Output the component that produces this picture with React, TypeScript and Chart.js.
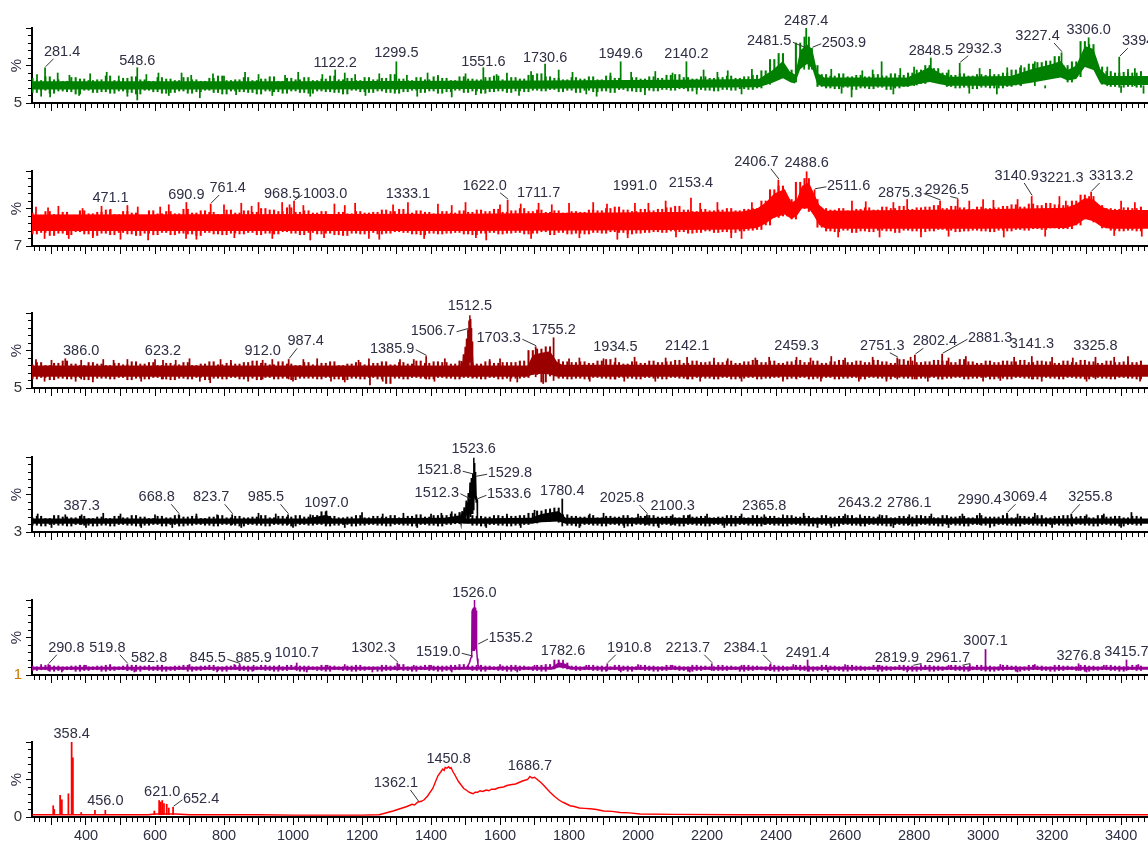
import React, { useEffect, useRef } from 'react';
import { Chart, registerables } from 'chart.js';

Chart.register(...registerables);

const FONT = '"Liberation Sans", Arial, sans-serif';
const TEXT_COLOR = '#2e2e44';
const X_MIN = 243.5;
const X_MAX = 3478;
const NOISE_START = 245;
const NOISE_STEP = 12.5;
const X_LABEL_STEP = 200;

// offset labels printed at the foot of each % axis
const yOffsetLabels = ['5', '7', '5', '3', '1', '0'];
const yOffsetLabelColors = ['#333', '#333', '#333', '#333', '#c87800', '#333'];
const traceColors = ['#008000', '#ff0000', '#9b0000', '#000000', '#960096', '#ff0000'];

// ---------- Trace 1 (green) ----------
// noise: alternating high / low intensity (%), every 12.5 m/z from 245
const p1Noise = [
  33,14,30,17,35,13,31,16,29,15,34,12,32,17,30,14,
  31,15,36,13,30,16,33,14,35,12,31,17,29,15,34,13,
  32,14,30,16,34,13,31,15,29,17,33,14,36,12,30,16,
  31,15,34,14,30,12,32,16,35,15,29,13,33,16,31,14,
  34,13,30,16,32,15,36,14,31,12,33,17,30,15,34,14,
  31,16,33,14,38,13,32,15,30,17,34,14,31,16,35,13,
  33,15,30,17,35,14,32,16,31,13,34,15,36,16,31,14,
  34,16,32,15,37,17,39,16,35,18,33,15,31,17,34,14,
  32,17,35,15,31,16,36,14,33,18,30,16,34,15,32,17,
  35,16,33,18,37,17,38,19,34,16,32,18,35,17,33,16,
  34,18,36,17,33,19,35,18,37,20,43,25,58,32,66,36,
  44,28,80,52,88,45,50,22,38,20,36,19,39,21,35,18,
  37,20,35,19,38,21,36,18,39,20,37,22,40,24,44,26,
  50,30,46,27,40,22,37,20,39,21,36,19,38,21,37,20,
  38,20,40,22,44,24,47,27,52,30,54,33,56,34,62,36,
  50,28,55,35,82,50,78,45,48,25,42,22,40,21,41,22,
  40,21,42,
];
// dense part of the noise band [m/z, upper %, lower %]
const p1Band = [
  [245,29,18],[1000,29,18],[1700,30,19],[2100,31,20],[2350,32,21],[2390,44,27],[2420,56,33],
  [2440,42,28],[2455,38,26],[2470,70,45],[2490,78,52],[2505,72,46],[2520,40,24],[2540,34,22],
  [2780,34,22],[2810,40,25],[2845,48,28],[2875,40,25],[2900,35,23],[3080,36,23],[3140,45,27],
  [3200,52,32],[3225,56,34],[3245,44,30],[3270,50,32],[3295,76,48],[3320,72,44],[3340,45,26],
  [3360,36,24],[3478,36,24],
];
// isolated noise spikes [m/z, tip %]
const p1Spikes = [
  [258,38],[270,9],[296,8],[318,40],[352,37],[380,10],[412,39],[460,41],[495,36],[520,9],
  [575,38],[610,40],[640,10],[677,40],[705,37],[730,7],[768,39],[800,36],[835,11],[861,41],
  [900,38],[940,10],[977,37],[1015,41],[1050,9],[1085,38],[1150,40],[1180,38],[1210,10],
  [1250,39],[1330,37],[1360,9],[1390,40],[1420,37],[1460,8],[1500,39],[1530,11],[1590,38],
  [1620,40],[1655,10],[1690,42],[1770,44],[1810,41],[1850,12],[1880,9],[1920,40],[1980,41],
  [2020,11],[2050,42],[2100,40],[2170,12],[2190,44],[2230,41],[2260,43],[2300,12],[2330,45],
  [2560,45],[2590,13],[2619,8],[2650,43],[2680,44],[2706,55],[2740,12],[2760,46],[2800,48],
  [2900,44],[2960,13],[2990,46],[3020,45],[3040,12],[3070,47],[3110,50],[3150,55],[3180,20],
  [3360,48],[3400,14],[3420,45],[3440,46],[3465,13],
];
// [label (m/z), tip %, foot % of the spike or null]
const p1Peaks = [
  ['281.4',47,18],['548.6',47,4],['1122.2',44,18],['1299.5',55,18],['1551.6',47,18],
  ['1730.6',52,20],['1949.6',55,20],['2140.2',55,20],['2481.5',73,45],['2487.4',100,55],
  ['2503.9',73,45],['2848.5',60,30],['2932.3',53,24],['3227.4',67,36],['3306.0',87,50],
  ['3394.6',61,24],
];
// [label baseline %, horizontal shift px]
const p1LabelPos = [
  [63,17],[51,0],[48,0],[61,0],[49,0],[55,0],[60,0],[60,0],[77,-35],[104,0],[75,32],
  [64,0],[67,20],[84,-24],[92,0],[77,25],
];

// ---------- Trace 2 (red) ----------
const p2Noise = [
  44,16,41,18,46,14,42,17,45,15,40,19,47,16,43,14,
  45,17,48,15,42,18,46,16,44,14,41,17,47,15,43,18,
  46,15,43,17,49,16,44,14,47,18,45,16,42,15,48,17,
  44,16,47,18,45,15,50,17,48,16,46,19,51,17,45,15,
  47,18,44,16,46,17,42,15,45,14,43,17,46,16,44,18,
  45,16,48,17,46,19,49,18,44,16,47,15,45,17,43,16,
  46,17,44,18,47,16,45,15,48,17,46,18,49,16,45,17,
  47,18,50,16,46,17,48,19,45,15,47,18,44,16,46,17,
  45,16,48,18,47,17,50,19,52,18,48,16,46,17,49,18,
  47,19,49,18,51,20,53,19,48,17,46,18,49,20,47,18,
  48,19,50,18,47,20,49,21,50,22,60,28,75,38,80,40,
  62,36,85,50,90,46,62,25,50,20,48,19,50,21,47,18,
  49,20,51,19,48,21,52,20,50,18,53,21,49,20,51,19,
  52,20,54,22,50,21,53,19,51,20,49,21,52,20,50,19,
  51,21,53,20,55,22,52,21,56,23,54,22,57,24,55,23,
  54,23,60,28,68,36,66,32,54,24,50,21,49,20,51,21,
  50,20,52,
];
const p2Band = [
  [245,42,20],[1500,43,20],[2000,45,21],[2300,46,22],[2345,50,24],[2370,58,30],[2395,70,38],
  [2425,76,42],[2445,58,36],[2460,62,40],[2475,80,50],[2495,85,50],[2510,70,40],[2525,55,28],
  [2545,47,23],[3000,49,23],[3240,51,24],[3270,56,28],[3295,64,36],[3320,62,33],[3345,52,25],
  [3370,48,23],[3478,48,23],
];
const p2Spikes = [
  [255,52],[280,10],[290,51],[320,53],[350,10],[390,50],[420,11],[445,53],[500,9],[520,54],
  [550,52],[580,8],[615,52],[640,55],[690,10],[720,9],[800,55],[830,11],[850,57],[880,53],
  [900,58],[940,10],[990,55],[1030,54],[1050,8],[1090,11],[1120,56],[1150,54],[1180,57],
  [1220,10],[1250,9],[1290,55],[1380,10],[1420,56],[1460,54],[1500,58],[1530,11],[1560,8],
  [1600,55],[1660,56],[1690,10],[1750,55],[1800,57],[1830,11],[1870,58],[1910,56],[1940,9],
  [1970,11],[2030,57],[2080,60],[2110,12],[2180,57],[2230,58],[2270,11],[2300,10],[2330,58],
  [2580,12],[2620,60],[2660,59],[2700,12],[2740,58],[2780,62],[2820,12],[2900,13],[2960,60],
  [3000,62],[3030,61],[3060,12],[3100,62],[3180,13],[3240,60],[3380,14],[3400,60],[3440,58],
  [3460,13],
];
const p2Peaks = [
  ['471.1',49,22],['690.9',58,22],['761.4',56,22],['968.5',58,22],['1003.0',60,22],
  ['1333.1',58,22],['1622.0',61,22],['1711.7',57,22],['1991.0',57,22],['2153.4',64,22],
  ['2406.7',88,45],['2488.6',99,60],['2511.6',75,45],['2875.3',60,25],['2926.5',62,25],
  ['3140.9',66,30],['3221.3',66,30],['3313.2',72,40],
];
const p2LabelPos = [
  [59,0],[63,0],[72,17],[64,0],[64,31],[64,0],[75,-23],[66,0],[75,0],[79,0],
  [107,-22],[106,0],[75,34],[66,-40],[70,-11],[88,-15],[85,2],[88,20],
];

// ---------- Trace 3 (dark red) ----------
const p3Noise = [
  31,12,34,14,30,11,33,13,36,12,32,14,30,11,34,13,
  32,13,30,12,33,14,31,11,35,13,32,12,34,14,30,12,
  33,11,31,13,34,12,30,14,32,11,35,13,31,12,33,14,
  32,12,34,13,36,11,33,14,31,12,35,13,32,11,30,13,
  34,13,31,12,33,14,35,12,30,11,32,13,34,12,31,14,
  33,12,35,6,31,13,34,12,32,14,36,13,33,12,35,14,
  34,13,32,12,36,14,33,13,32,12,35,14,33,12,34,13,
  34,13,36,14,50,18,52,8,55,16,38,13,35,12,34,13,
  35,12,33,14,36,13,38,12,34,14,32,13,35,12,33,14,
  36,13,34,12,35,14,37,13,33,12,36,14,34,13,35,12,
  34,14,36,12,33,13,35,14,37,12,34,13,36,14,33,12,
  35,13,37,14,34,12,36,13,33,14,35,12,37,13,34,14,
  36,12,34,14,37,13,35,12,33,14,38,13,36,12,34,13,
  35,14,37,12,36,13,34,14,38,12,35,13,33,14,36,12,
  34,13,36,12,35,14,37,13,34,12,36,14,35,13,33,12,
  36,14,34,13,37,12,35,14,33,13,36,12,34,14,35,13,
  34,12,36,
];
const p3Band = [[245,30,15],[1680,30,15],[1695,44,18],[1720,47,19],[1745,49,18],[1765,35,15],[1780,31,15],[3478,31,15]];
const p3Spikes = [
  [255,38],[280,9],[300,37],[340,39],[370,9],[420,8],[450,38],[480,37],[520,38],[560,9],
  [600,38],[660,37],[700,39],[730,9],[760,7],[790,38],[820,37],[870,9],[940,38],[1000,9],
  [1030,38],[1070,39],[1110,9],[1150,8],[1190,37],[1220,39],[1223,4],[1260,9],[1310,38],
  [1350,38],[1410,9],[1440,39],[1570,38],[1600,39],[1630,9],[1650,8],[1725,6],[1800,39],
  [1830,40],[1860,9],[1900,39],[1960,9],[1990,41],[2050,9],[2080,40],[2180,9],[2220,40],
  [2260,39],[2300,9],[2340,40],[2380,41],[2420,9],[2500,40],[2530,9],[2560,42],[2600,40],
  [2640,9],[2680,41],[2720,9],[2790,41],[2840,9],[2900,40],[2950,42],[3000,9],[3050,10],
  [3090,41],[3170,9],[3200,41],[3260,40],[3300,9],[3380,41],[3420,42],[3455,9],
];
const p3PeakLine = [
  [1478,20],[1482,30],[1485,14],[1488,36],[1491,16],[1494,45],[1497,18],[1499,55],[1501,22],
  [1503,66],[1505,25],[1506.7,78],[1508,30],[1510,90],[1511,35],[1512.5,97],[1514,40],
  [1515,92],[1516,30],[1517,80],[1518,25],[1519,62],[1520,18],[1521,45],[1523,14],[1525,30],[1528,15],
];
const p3Peaks = [
  ['386.0',37,12],['623.2',37,12],['912.0',37,12],['987.4',38,12],['1385.9',42,12],
  ['1506.7',78,null],['1512.5',97,null],['1703.3',55,15],['1755.2',67,10],['1934.5',40,12],
  ['2142.1',41,12],['2459.3',41,12],['2751.3',40,12],['2802.4',44,12],['2881.3',45,12],
  ['3141.3',42,12],['3325.8',41,12],
];
const p3LabelPos = [
  [44,0],[44,0],[44,0],[57,17],[47,-34],[71,-35],[104,0],[61,-37],[72,0],[49,0],
  [51,0],[51,0],[51,-15],[57,20],[61,48],[53,0],[51,0],
];

// ---------- Trace 4 (black) ----------
const p4Noise = [
  19,9,21,8,18,10,22,9,20,8,19,10,21,9,18,8,
  20,9,18,8,21,10,19,9,22,8,20,9,18,10,21,8,
  19,10,22,8,20,9,21,10,18,9,20,8,22,10,19,9,
  21,8,19,10,20,9,22,8,19,10,21,9,20,8,22,10,
  20,9,22,10,27,8,21,9,19,10,20,8,22,9,19,10,
  21,9,20,8,22,10,19,9,21,8,23,10,20,9,22,8,
  22,10,24,11,26,12,22,9,21,8,20,10,22,9,21,8,
  21,9,22,10,25,12,28,14,30,15,32,13,23,9,21,8,
  20,10,22,9,19,8,21,10,20,9,22,8,19,10,21,9,
  22,8,20,10,21,9,19,8,22,10,20,9,21,8,19,10,
  20,9,22,8,21,10,19,9,22,8,20,10,21,9,19,8,
  22,10,20,9,21,8,19,10,22,9,20,8,21,10,22,9,
  19,8,21,10,20,9,22,8,19,10,21,9,20,8,22,10,
  21,9,19,8,22,10,20,9,21,8,19,10,22,9,20,8,
  20,10,22,9,19,8,21,10,20,9,22,8,19,10,21,9,
  22,8,20,10,21,9,19,8,22,10,20,9,21,8,19,10,
  21,9,20,
];
const p4Band = [
  [245,18,11],[1040,18,11],[1097,23,11],[1115,18,11],[1440,19,11],[1480,22,12],[1500,18,11],
  [1690,19,11],[1720,24,13],[1770,28,14],[1790,19,11],[3478,18,11],
];
const p4Spikes = [
  [260,24],[300,6],[340,23],[400,6],[450,25],[500,24],[560,6],[600,23],[650,6],[720,24],
  [780,23],[850,6],[900,25],[950,24],[1000,6],[1050,23],[1150,6],[1200,26],[1260,24],[1320,25],
  [1360,6],[1400,24],[1430,25],[1460,27],[1560,6],[1620,24],[1660,6],[1700,29],[1745,31],
  [1830,6],[1860,24],[1900,25],[1960,6],[2000,24],[2060,6],[2150,23],[2200,24],[2250,6],
  [2300,24],[2420,23],[2480,25],[2520,6],[2560,6],[2600,24],[2700,23],[2740,6],[2850,24],
  [2900,6],[2940,24],[3020,6],[3100,24],[3150,25],[3200,6],[3300,23],[3350,24],[3400,6],[3430,26],
];
const p4PeakLine = [
  [1480,16],[1484,22],[1487,12],[1490,28],[1493,14],[1496,33],[1499,15],[1502,42],[1505,16],
  [1508,52],[1510,18],[1513,66],[1515,20],[1517,72],[1519,25],[1521,78],[1522,30],[1523.6,99],
  [1524.5,40],[1525.5,92],[1526.5,45],[1527.5,80],[1528.5,43],[1529.8,73],[1531,40],[1532.5,45],
  [1533.6,43],[1534.5,12],[1537,14],
];
const p4Peaks = [
  ['387.3',23,10],['668.8',23,10],['823.7',23,10],['985.5',23,10],['1097.0',28,10],
  ['1512.3',43,null],['1521.8',76,null],['1523.6',99,null],['1529.8',73,null],['1533.6',43,null],
  ['1780.4',44,8],['2025.8',23,10],['2100.3',23,10],['2365.8',23,10],['2643.2',23,10],
  ['2786.1',23,10],['2990.4',25,10],['3069.4',25,10],['3255.8',24,10],
];
const p4LabelPos = [
  [29,0],[41,-22],[41,-21],[41,-22],[33,0],[47,-33],[77,-34],[105,0],[73,34],[45,32],
  [49,0],[40,-25],[29,0],[29,0],[33,0],[33,0],[37,0],[41,18],[41,19],
];

// ---------- Trace 5 (purple) ----------
const p5Noise = [
  12,6,11,7,13,5,12,6,11,7,12,5,13,6,11,7,
  12,5,13,6,11,7,12,6,13,5,12,7,11,6,13,5,
  11,6,12,7,13,5,11,6,12,7,13,6,11,5,12,7,
  13,6,12,5,11,7,13,6,12,5,11,6,13,7,12,5,
  12,7,11,6,13,5,12,7,11,6,12,5,13,6,11,7,
  11,5,13,6,12,7,14,6,11,5,12,7,13,6,12,5,
  12,6,13,7,14,8,12,6,13,5,12,7,11,6,12,5,
  13,6,12,7,11,6,13,5,14,8,20,12,16,8,12,6,
  11,7,13,6,12,5,11,7,13,6,12,5,11,7,13,6,
  12,5,11,6,13,7,12,6,11,5,13,6,12,7,11,6,
  13,6,12,7,11,5,13,6,12,7,11,6,13,5,12,6,
  11,7,13,6,12,5,11,6,13,7,12,6,11,5,13,6,
  12,6,11,7,13,5,12,6,11,7,13,6,12,5,11,7,
  13,5,12,6,11,7,13,6,12,5,11,7,13,6,12,5,
  11,6,13,7,12,5,11,6,13,7,12,6,11,5,13,6,
  12,7,11,6,13,5,12,6,11,7,13,6,12,5,11,7,
  13,6,12,
];
const p5Band = [[245,11,7],[1750,11,7],[1770,17,10],[1790,15,9],[1805,11,7],[3478,11,7]];
const p5Spikes = [
  [270,14],[330,4],[400,13],[470,14],[540,4],[620,13],[700,14],[780,4],[830,14],[960,13],
  [1040,4],[1100,13],[1150,14],[1230,4],[1350,13],[1400,13],[1460,4],[1600,14],[1650,4],
  [1700,13],[1850,13],[1950,4],[2000,14],[2100,13],[2150,4],[2300,13],[2450,14],[2550,4],
  [2600,14],[2700,13],[2780,4],[2900,13],[3050,14],[3100,4],[3150,14],[3220,13],[3300,4],
  [3350,13],[3450,14],
];
const p5PeakLine = [
  [1500,9],[1505,11],[1509,14],[1512,17],[1515,22],[1517,24],[1518,30],[1519,86],[1519.8,32],
  [1520.6,88],[1521.4,32],[1522.2,89],[1523,32],[1523.8,90],[1524.6,33],[1525.4,92],[1526,100],
  [1526.8,34],[1527.6,90],[1528.4,34],[1529.2,88],[1530,35],[1530.8,86],[1531.5,40],[1532.5,36],
  [1534,22],[1536,14],[1540,10],
];
const p5Peaks = [
  ['290.8',14,6],['519.8',14,6],['582.8',13,6],['845.5',14,6],['885.9',13,6],['1010.7',16,6],
  ['1302.3',16,6],['1519.0',24,null],['1526.0',100,null],['1535.2',40,null],['1782.6',20,9],
  ['1910.8',15,6],['2213.7',15,6],['2384.1',15,6],['2491.4',20,5],['2819.9',14,6],
  ['2961.7',14,6],['3007.1',34,5],['3276.8',15,6],['3415.7',20,6],
];
const p5LabelPos = [
  [31,18],[31,-20],[17,0],[17,-32],[17,0],[24,0],[31,-24],[25,-34],[104,0],[44,33],[27,0],
  [31,22],[31,-24],[31,-25],[24,0],[17,-24],[17,-22],[40,0],[20,0],[25,0],
];

// ---------- Trace 6 (red, bottom) ----------
const p6Line = [
  [245,3],[300,3],[420,3],[580,3],[600,4],[660,4],[700,3],[900,3],[1000,2.5],[1200,2.5],
  [1250,3],[1290,8],[1310,11],[1330,14],[1345,17],[1352,16],[1362.1,20],[1372,21],[1380,23],
  [1390,28],[1405,38],[1420,55],[1428,60],[1434,64],[1438,62],[1441,66],[1446,65],[1450.8,67],
  [1455,65],[1458,66],[1464,60],[1468,57],[1480,47],[1495,38],[1505,35],[1510,33],[1516,32],
  [1522,31],[1528,33],[1535,33],[1542,35],[1550,34],[1560,36],[1568,35],[1575,37],[1586,37],
  [1595,39],[1610,40],[1620,42],[1630,43],[1645,44],[1655,46],[1665,48],[1672,49],[1680,50],
  [1686.7,54],[1693,52],[1700,53],[1708,50],[1716,47],[1725,43],[1735,38],[1745,33],[1759,27],
  [1770,23],[1780,20],[1790,18],[1803,15],[1815,14],[1830,12],[1845,11.5],[1861,11],[1880,10],
  [1900,8],[1925,7.5],[1948,6],[1975,5.5],[2006,4],[2100,3.5],[2300,3],[3478,3],
];
const p6Spikes = [
  [305,15],[308,10],[325,29],[330,23],[349,31],[362,79],[386,6],[426,9],[598,8],
  [612,22],[617,20],[626,18],[634,17],[640,12],
];
const p6Peaks = [
  ['358.4',100,3],['456.0',9,3],['621.0',22,3],['652.4',13,3],['1362.1',20,null],
  ['1450.8',67,null],['1686.7',54,null],
];
const p6LabelPos = [[105,0],[16,0],[28,0],[19,28],[40,-22],[72,0],[63,0]];

// ---------- layout ----------
const AXIS_Y = [103, 246, 388, 532, 675, 817];
const PLOT_TOP = 28;
// level (%) from which the isolated spikes rise
const SPIKE_FOOT = [23, 30, 22, 14, 9, 3];

const PANELS = [
  { noise: p1Noise, band: p1Band, spikes: p1Spikes, line: null, peaks: p1Peaks, pos: p1LabelPos },
  { noise: p2Noise, band: p2Band, spikes: p2Spikes, line: null, peaks: p2Peaks, pos: p2LabelPos },
  { noise: p3Noise, band: p3Band, spikes: p3Spikes, line: p3PeakLine, peaks: p3Peaks, pos: p3LabelPos },
  { noise: p4Noise, band: p4Band, spikes: p4Spikes, line: p4PeakLine, peaks: p4Peaks, pos: p4LabelPos },
  { noise: p5Noise, band: p5Band, spikes: p5Spikes, line: p5PeakLine, peaks: p5Peaks, pos: p5LabelPos },
  { noise: null, band: null, spikes: p6Spikes, line: p6Line, peaks: p6Peaks, pos: p6LabelPos },
];

function makeLabelPlugin(peaks, pos) {
  return {
    id: 'peakLabels',
    afterDatasetsDraw(chart) {
      const { ctx } = chart;
      const xs = chart.scales.x;
      const ys = chart.scales.y;
      ctx.save();
      ctx.font = `14.5px ${FONT}`;
      ctx.fillStyle = TEXT_COLOR;
      ctx.strokeStyle = '#333';
      ctx.lineWidth = 1;
      ctx.textAlign = 'center';
      ctx.textBaseline = 'alphabetic';
      peaks.forEach((pk, k) => {
        const [text, tip] = pk;
        const [ty, dx] = pos[k];
        const px = xs.getPixelForValue(parseFloat(text));
        const tipY = ys.getPixelForValue(tip);
        const by = ys.getPixelForValue(ty);
        const cx = px + dx;
        const w = ctx.measureText(text).width;
        ctx.fillText(text, cx, by);
        if (Math.abs(dx) > 3) {
          const s = Math.sign(dx);
          let ex;
          let ey;
          if (Math.abs(dx) > w / 2 + 5) {
            ex = cx - s * (w / 2 + 1);
            ey = by - 3;
          } else {
            ex = px + s * 8;
            ey = by + 3;
          }
          ctx.beginPath();
          ctx.moveTo(px + 0.5, tipY - 1);
          ctx.lineTo(ex + 0.5, ey);
          ctx.stroke();
        }
      });
      ctx.restore();
    },
  };
}

const lineDs = (data, color, width, extra = {}) => ({
  type: 'line',
  data,
  borderColor: color,
  borderWidth: width,
  pointRadius: 0,
  tension: 0,
  fill: false,
  xAxisID: 'x',
  yAxisID: 'y',
  ...extra,
});

function Panel({ index }) {
  const ref = useRef(null);
  const isLast = index === PANELS.length - 1;
  const canvasH = isLast ? 130 : 125;
  const top = AXIS_Y[index] - 103;

  useEffect(() => {
    const p = PANELS[index];
    const color = traceColors[index];
    const datasets = [];
    if (p.band) {
      datasets.push(lineDs(p.band.map(([x, hi]) => ({ x, y: hi })), color, 0, { fill: '+1', backgroundColor: color }));
      datasets.push(lineDs(p.band.map(([x, , lo]) => ({ x, y: lo })), color, 0));
    }
    if (p.noise) {
      // each noise sample paired with the next one gives one vertical noise stroke
      const strokes = [];
      for (let k = 0; k < p.noise.length - 1; k++) {
        strokes.push({ x: NOISE_START + k * NOISE_STEP, y: [p.noise[k], p.noise[k + 1]] });
      }
      datasets.push({
        type: 'bar',
        data: strokes,
        backgroundColor: color,
        borderWidth: 0,
        barThickness: 1.4,
        grouped: false,
        xAxisID: 'x',
        yAxisID: 'y',
      });
    }
    if (p.line) {
      datasets.push(lineDs(p.line.map(([x, y]) => ({ x, y })), color, isLast ? 1.4 : 1.5));
    }
    const sticks = [];
    p.peaks.forEach(([text, tip, foot]) => {
      if (foot !== null) sticks.push({ x: parseFloat(text), y: [foot, tip] });
    });
    p.spikes.forEach(([mz, tip]) => sticks.push({ x: mz, y: [SPIKE_FOOT[index], tip] }));
    datasets.push({
      type: 'bar',
      data: sticks,
      backgroundColor: color,
      borderWidth: 0,
      barThickness: 1.1,
      grouped: false,
      xAxisID: 'x',
      yAxisID: 'y',
    });

    const chart = new Chart(ref.current, {
      type: 'line',
      data: { datasets },
      options: {
        responsive: false,
        animation: false,
        events: [],
        layout: { padding: { top: PLOT_TOP, left: 0, right: 0, bottom: 0 } },
        plugins: { legend: { display: false }, tooltip: { enabled: false } },
        scales: {
          x: {
            type: 'linear',
            axis: 'x',
            position: 'bottom',
            offset: false,
            min: X_MIN,
            max: X_MAX,
            afterFit: (s) => { s.height = canvasH - 103; },
            grid: { offset: false, drawOnChartArea: false, drawTicks: true, tickLength: 8, tickColor: '#000', tickWidth: 1 },
            border: { display: true, color: '#000', width: 2 },
            ticks: {
              display: isLast,
              stepSize: 100,
              includeBounds: false,
              autoSkip: false,
              maxRotation: 0,
              padding: 2,
              color: TEXT_COLOR,
              font: { family: FONT, size: 14.5 },
              callback: (v) => (Math.round(v) % X_LABEL_STEP === 0 ? String(Math.round(v)) : ''),
            },
          },
          xMinor: {
            type: 'linear',
            axis: 'x',
            position: { y: 0 },
            offset: false,
            min: X_MIN,
            max: X_MAX,
            grid: { offset: false, drawOnChartArea: false, drawTicks: true, tickLength: 5, tickColor: '#000', tickWidth: 1 },
            border: { display: false },
            ticks: { display: false, stepSize: 100 / 6, includeBounds: false },
          },
          y: {
            type: 'linear',
            axis: 'y',
            position: 'left',
            min: 0,
            max: 100,
            afterFit: (s) => { s.width = 32; },
            grid: { drawOnChartArea: false, drawTicks: true, tickLength: 6, tickColor: '#000' },
            border: { display: true, color: '#000', width: 2 },
            title: {
              display: true,
              text: '%',
              color: TEXT_COLOR,
              font: { family: FONT, size: 15 },
              padding: { top: 8, bottom: 0 },
            },
            ticks: {
              stepSize: 50,
              includeBounds: false,
              autoSkip: false,
              padding: 4,
              color: yOffsetLabelColors[index],
              font: { family: FONT, size: 15 },
              callback: (v) => (v === 0 ? yOffsetLabels[index] : ''),
            },
          },
          yMinor: {
            type: 'linear',
            axis: 'y',
            position: { x: X_MIN },
            min: 0,
            max: 100,
            grid: { drawOnChartArea: false, drawTicks: true, tickLength: 4, tickColor: '#000' },
            border: { display: false },
            ticks: { display: false, stepSize: 10, includeBounds: false },
          },
        },
      },
      plugins: [makeLabelPlugin(p.peaks, p.pos)],
    });
    return () => chart.destroy();
  }, [index]);

  return (
    <canvas
      ref={ref}
      width={1148}
      height={canvasH}
      style={{ position: 'absolute', left: 0, top, width: 1148, height: canvasH }}
    />
  );
}

export default function App() {
  useEffect(() => {
    document.body.style.margin = '0';
    document.body.style.overflow = 'hidden';
    document.body.style.background = '#fff';
  }, []);
  return (
    <div style={{ position: 'relative', width: 1148, height: 844, overflow: 'hidden', background: '#fff' }}>
      {PANELS.map((_, i) => (
        <Panel key={i} index={i} />
      ))}
    </div>
  );
}
